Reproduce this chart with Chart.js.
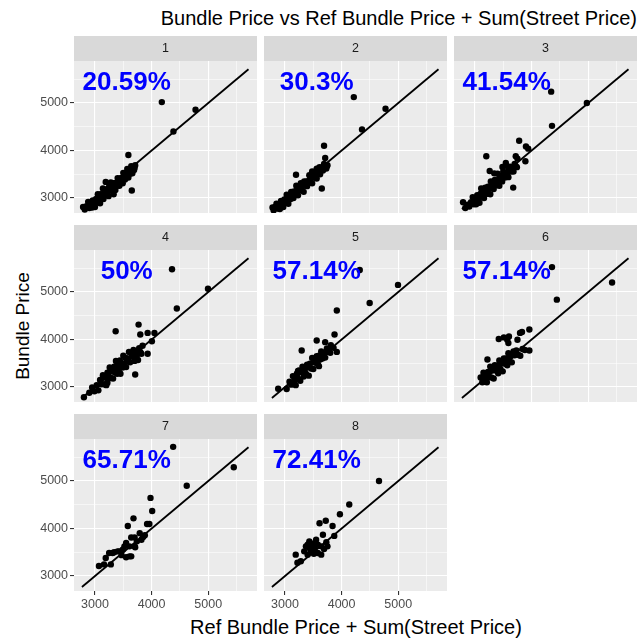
<!DOCTYPE html>
<html>
<head>
<meta charset="utf-8">
<script src="https://cdn.jsdelivr.net/npm/chart.js@4.4.1/dist/chart.umd.min.js"></script>
<style>
  html, body { margin: 0; padding: 0; background: #ffffff; }
  #page { position: relative; width: 644px; height: 642px; overflow: hidden;
          font-family: "Liberation Sans", Arial, sans-serif; }
  #page canvas { position: absolute; }
  .txt { position: absolute; white-space: nowrap; color: #000000; line-height: 1; }
  #title  { right: 7px; top: 8px;  font-size: 20px; }
  #xtitle { left: 356px; top: 617px; font-size: 20px; transform: translateX(-50%); }
  #ytitle { left: 22px;  top: 326px; font-size: 19px; transform: translate(-50%, -50%) rotate(-90deg); }
</style>
</head>
<body>
<div id="page">
  <div class="txt" id="title">Bundle Price vs Ref Bundle Price + Sum(Street Price)</div>
  <div class="txt" id="xtitle">Ref Bundle Price + Sum(Street Price)</div>
  <div class="txt" id="ytitle">Bundle Price</div>
</div>
<script>
// ---- facet labels and annotations ----
const facetLabels = ['1', '2', '3', '4', '5', '6', '7', '8'];
const pctLabels = ['20.59%', '30.3%', '41.54%', '50%', '57.14%', '57.14%', '65.71%', '72.41%'];

// ---- axis breaks ----
const xMajor = [3000, 4000, 5000];
const xMinor = [3500, 4500, 5500];
const yMajor = [3000, 4000, 5000];
const yMinor = [3500, 4500, 5500];
const xLimits = [2630, 5860];
const yLimits = [2685, 5885];

// reference line (equal prices)
const refLineX = [2770, 5710];
const refLineY = [2770, 5710];

// ---- per-facet data: x = Ref Bundle Price + Sum(Street Price), y = Bundle Price ----
const ref1 = [4180,4775,4385,3590,3650,3190,
  2790,2820,2850,2880,2900,2920,2950,2960,2980,3000, 3020,3040,3050,3070,3090,3100,3110,3130,3140,3150,
  3170,3180,3190,3210,3220,3240,3250,3270,3280,3300, 3310,3330,3340,3360,3370,3390,3400,3420,3430,3450,
  3460,3480,3490,3500,3520,3530,3550,3560,3580,3590, 3600,3620,3630,3640,3650,3660,3680,3690,3700,3710,
  3570,3330];
const price1 = [5020,4860,4400,3905,3160,3340,
  2810,2760,2830,2920,2790,2880,2800,2950,2890,2810, 2980,2910,3080,3000,2890,3080,2990,3070,3200,2980,
  3080,3150,3180,3070,3160,3040,3240,3160,3330,3240, 3150,3310,3240,3170,3320,3260,3420,3340,3260,3420,
  3350,3420,3310,3530,3430,3390,3510,3460,3560,3430, 3540,3510,3600,3670,3570,3520,3640,3590,3640,3690,
  3610,3080];

const ref2 = [4215,4775,4360,3690,3195,3650,3740,3710,
  2780,2800,2830,2850,2870,2890,2910,2930,2950,2970, 2990,3010,3030,3050,3060,3080,3100,3110,3130,3150,
  3160,3180,3200,3210,3230,3250,3260,3280,3300,3310, 3330,3340,3360,3380,3390,3410,3430,3440,3460,3480,
  3490,3510,3530,3540,3560,3580,3590,3610,3620,3640, 3660,3670,3690,3710,3730,3750,3480,3560];
const price2 = [5125,4880,4445,4100,3490,3200,3670,3845,
  2800,2740,2820,2880,2780,2860,2770,2940,2880,2810, 2970,2900,3070,2990,2880,3050,2980,3130,3060,3000,
  3140,3080,3260,3160,3060,3240,3170,3310,3170,3260, 3130,3350,3280,3350,3250,3350,3480,3330,3440,3310,
  3430,3530,3430,3500,3410,3560,3510,3650,3500,3590, 3650,3580,3720,3670,3620,3690,3560,3620];

const ref3 = [4345,4975,4360,3780,3900,3940,3200,3720,3750,3890,3675,3260,3485,3545,
  2790,2830,2870,2900,2930,2960,2980,3000,3020,3040, 3060,3080,3100,3110,3130,3150,3160,3180,3200,3220,
  3230,3250,3270,3280,3300,3320,3330,3350,3370,3380, 3400,3420,3430,3450,3460,3480,3500,3510,3530,3550,
  3570,3590,3600,3620,3640,3660,3680,3700,3720,3740, 3340];
const price3 = [5240,5000,4520,4205,4085,4040,3880,3880,3830,3775,3220,3570,3655,3740,
  2910,2790,2860,2820,2910,3020,2870,2960,2870,3060, 2990,2900,3090,3200,3030,3110,3000,3220,3130,3090,
  3240,3200,3080,3350,3210,3300,3190,3380,3310,3270, 3510,3390,3260,3470,3380,3350,3560,3470,3430,3680,
  3510,3440,3590,3660,3560,3630,3560,3720,3670,3650, 3520];

const ref4 = [4360,4995,4445,3770,3365,3800,3930,4050,4005,3930,3710,3220,2805,3220,
  2900,2950,2990,3030,3060,3090,3110,3140,3160,3180, 3200,3220,3240,3260,3280,3300,3320,3340,3350,3370,
  3390,3400,3420,3440,3450,3470,3490,3500,3520,3540, 3550,3570,3590,3600,3620,3640,3660,3680,3700,3720,
  3740,3760,3780,3800,3820,3840];
const price4 = [5480,5070,4655,4315,4175,4105,4140,4140,3965,3700,3265,3195,2785,3090,
  2880,2990,2910,3040,2930,3150,3060,3250,3060,3200, 3040,3300,3210,3410,3190,3330,3180,3430,3310,3550,
  3280,3450,3360,3560,3280,3480,3410,3660,3490,3610, 3420,3600,3540,3740,3520,3700,3640,3780,3550,3740,
  3670,3570,3820,3740,3700,3870];

const ref5 = [4320,4995,4495,3915,3875,3560,3710,3810,3295,2880,3915,3858,
  3030,3080,3110,3140,3170,3190,3210,3230,3250,3270, 3290,3310,3330,3350,3370,3390,3410,3420,3440,3460,
  3480,3500,3520,3540,3560,3580,3600,3620,3640,3660, 3690,3710,3740,3770,3800,3230,3600];
const price5 = [5465,5150,4770,4610,4105,3980,3945,3880,3770,2965,3740,3825,
  2960,3110,3050,3230,3130,3040,3280,3180,3350,3130, 3320,3430,3220,3370,3280,3470,3430,3240,3490,3390,
  3610,3380,3560,3510,3650,3480,3660,3580,3750,3600, 3710,3620,3810,3740,3720,3340,3440];

const ref6 = [4360,5420,4445,3960,3830,3795,3420,3510,3600,3590,3750,3570,3960,3220,
  3100,3130,3150,3170,3190,3210,3230,3250,3270,3290, 3310,3330,3350,3370,3390,3410,3430,3450,3470,3490,
  3510,3530,3550,3570,3590,3610,3630,3650,3680,3700, 3730,3760,3800,3840,3880];
const price6 = [5525,5200,4840,4210,4160,4140,4010,4045,4065,3925,3995,3995,3770,3580,
  3200,3100,3300,3110,3210,3100,3320,3210,3430,3200, 3350,3180,3460,3350,3450,3290,3560,3380,3500,3330,
  3600,3490,3600,3460,3710,3550,3650,3520,3750,3670, 3770,3680,3660,3800,3780];

const ref7 = [4380,5450,4620,3980,4010,3680,3580,3920,3960,3790,3640,3700,3850,3740,3820,3550,3520,3610,
  3700,3490,3400,3340,3310,3610,3550,3190,3160,3280,3710,3250,3430,3640,3880,3070,3470];
const price7 = [5720,5290,4900,4645,4370,4215,4055,4095,4095,3900,3810,3810,3820,3730,3765,3695,3625,3625,
  3625,3555,3520,3500,3485,3415,3395,3380,3245,3245,3605,3485,3520,3415,3860,3210,3440];

const ref8 = [4660,4135,3970,3720,3610,3840,3670,3870,3430,3490,3400,3550,3580,3730,3750,3640,3520,3430,
  3460,3580,3640,3400,3190,3280,3220,3340,3510,3690,3370];
const price8 = [5000,4505,4300,4165,4110,4055,3870,3845,3730,3680,3660,3765,3660,3710,3625,3625,3590,3590,
  3520,3485,3450,3450,3450,3310,3280,3520,3470,3570,3625];

// label anchor in data units
const pctAnchor = [3560, 5420];

// ---- layout ----
const colLeft = [74, 264, 454];
const panelW = 183;
const stripTop = [36, 225, 414];
const stripH = 25;
const plotH = 152;
const yAxisW = 74;
const xAxisH = 22;

const FONT = '"Liberation Sans", Arial, sans-serif';
Chart.defaults.font.family = FONT;

// panel background, facet strip and the share label of each facet
const facetPlugin = {
  id: 'facet',
  beforeDraw(chart, args, opts) {
    const { ctx, chartArea: a } = chart;
    ctx.save();
    ctx.fillStyle = '#EBEBEB';
    ctx.fillRect(a.left, a.top, a.right - a.left, a.bottom - a.top);
    ctx.fillStyle = '#D9D9D9';
    ctx.fillRect(a.left, 0, a.right - a.left, a.top);
    ctx.fillStyle = '#1A1A1A';
    ctx.font = '12.5px ' + FONT;
    ctx.textAlign = 'center';
    ctx.textBaseline = 'middle';
    ctx.fillText(opts.label, (a.left + a.right) / 2, a.top / 2 + 0.5);
    ctx.restore();
  },
  afterDatasetsDraw(chart, args, opts) {
    const { ctx } = chart;
    const px = chart.scales.x.getPixelForValue(pctAnchor[0]);
    const py = chart.scales.y.getPixelForValue(pctAnchor[1]);
    ctx.save();
    ctx.fillStyle = '#0000FF';
    ctx.font = 'bold 26px ' + FONT;
    ctx.textAlign = 'center';
    ctx.textBaseline = 'middle';
    ctx.fillText(opts.pct, px, py);
    ctx.restore();
  }
};

const refs = [ref1, ref2, ref3, ref4, ref5, ref6, ref7, ref8];
const prices = [price1, price2, price3, price4, price5, price6, price7, price8];

function gridScale(major, minor, limits, showLabels, forcedSize, isX) {
  const breaks = major.concat(minor).sort((a, b) => a - b);
  const isMajor = v => major.includes(v);
  return {
    type: 'linear',
    min: limits[0],
    max: limits[1],
    afterBuildTicks: ax => { ax.ticks = breaks.map(v => ({ value: v })); },
    afterFit: ax => {
      if (isX) ax.height = forcedSize; else ax.width = forcedSize;
      ax.paddingLeft = 0; ax.paddingRight = 0; ax.paddingTop = 0; ax.paddingBottom = 0;
    },
    border: { display: false },
    grid: {
      color: '#FFFFFF',
      lineWidth: c => (c.tick && isMajor(c.tick.value)) ? 1.1 : 0.55,
      drawTicks: showLabels,
      tickLength: 4,
      tickWidth: 1.1,
      tickColor: c => (c.tick && isMajor(c.tick.value)) ? '#333333' : 'rgba(0,0,0,0)'
    },
    ticks: {
      display: showLabels,
      autoSkip: false,
      maxRotation: 0,
      minRotation: 0,
      color: '#4D4D4D',
      font: { size: 12.5 },
      padding: 2,
      callback: v => isMajor(v) ? String(v) : ''
    }
  };
}

const page = document.getElementById('page');
for (let i = 0; i < facetLabels.length; i++) {
  const col = i % 3, row = Math.floor(i / 3);
  const firstCol = col === 0;
  const bottomRow = row === 2;
  const left = firstCol ? 0 : colLeft[col];
  const width = firstCol ? colLeft[0] + panelW : panelW;
  const height = stripH + plotH + (bottomRow ? xAxisH : 0);

  const cv = document.createElement('canvas');
  cv.width = width; cv.height = height;
  cv.style.left = left + 'px';
  cv.style.top = stripTop[row] + 'px';
  cv.style.width = width + 'px';
  cv.style.height = height + 'px';
  page.appendChild(cv);

  const pts = refs[i].map((x, k) => ({ x: x, y: prices[i][k] }));
  const line = refLineX.map((x, k) => ({ x: x, y: refLineY[k] }));

  new Chart(cv, {
    type: 'scatter',
    data: {
      datasets: [
        { data: line, showLine: true, borderColor: '#000000', borderWidth: 1.8,
          pointRadius: 0, fill: false, order: 0 },
        { data: pts, backgroundColor: '#000000', borderWidth: 0, pointRadius: 3.2,
          pointHoverRadius: 3.2, order: 1 }
      ]
    },
    options: {
      responsive: false,
      animation: false,
      devicePixelRatio: 1,
      events: [],
      layout: { autoPadding: false, padding: { top: stripH, left: 0, right: 0, bottom: 0 } },
      plugins: {
        legend: { display: false },
        tooltip: { enabled: false },
        facet: { label: facetLabels[i], pct: pctLabels[i] }
      },
      scales: {
        x: gridScale(xMajor, xMinor, xLimits, bottomRow, bottomRow ? xAxisH : 0, true),
        y: gridScale(yMajor, yMinor, yLimits, firstCol, firstCol ? yAxisW : 0, false)
      }
    },
    plugins: [facetPlugin]
  });
}
</script>
</body>
</html>
